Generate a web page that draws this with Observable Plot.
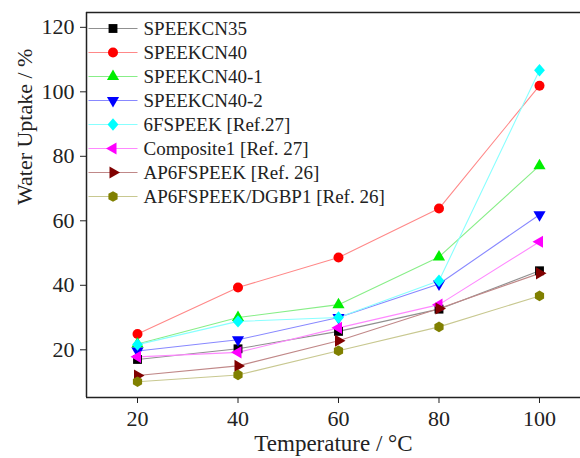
<!DOCTYPE html>
<html>
<head>
<meta charset="utf-8">
<script src="https://cdn.jsdelivr.net/npm/d3@7"></script>
<script src="https://cdn.jsdelivr.net/npm/@observablehq/plot@0.6"></script>
<style>
  html, body { margin: 0; padding: 0; background: #fff; }
  #wrap { position: relative; width: 580px; height: 458px; overflow: hidden; }
  #wrap svg { position: absolute; left: 0; top: 0; }
  #wrap svg text { font-family: "Liberation Serif", "Times New Roman", serif; }
</style>
</head>
<body>
<div id="wrap"></div>
<script>
// ---- data ----
const temperatures = [20, 40, 60, 80, 100];
const seriesNames = [
  "SPEEKCN35",
  "SPEEKCN40",
  "SPEEKCN40-1",
  "SPEEKCN40-2",
  "6FSPEEK [Ref.27]",
  "Composite1 [Ref. 27]",
  "AP6FSPEEK [Ref. 26]",
  "AP6FSPEEK/DGBP1 [Ref. 26]"
];
const speekcn35   = [17.0, 20.3, 25.7, 32.6, 44.5];
const speekcn40   = [24.9, 39.3, 48.6, 63.8, 101.9];
const speekcn40_1 = [21.8, 30.0, 34.0, 48.8, 77.1];
const speekcn40_2 = [19.6, 23.1, 30.0, 40.4, 61.9];
const fspeek6     = [21.6, 28.8, 30.0, 41.4, 106.7];
const composite1  = [17.8, 19.2, 26.8, 34.0, 53.5];
const ap6fspeek   = [12.0, 15.0, 22.8, 32.8, 43.7];
const ap6dgbp1    = [10.1, 12.2, 19.7, 27.1, 36.7];
const seriesValues = [speekcn35, speekcn40, speekcn40_1, speekcn40_2, fspeek6, composite1, ap6fspeek, ap6dgbp1];

const yTicks = [20, 40, 60, 80, 100, 120];
const xTicks = [20, 40, 60, 80, 100];

// ---- styles ----
const markerColors = ["#000000", "#ff0000", "#00ee00", "#0000ff", "#00ffff", "#ff00ff", "#800000", "#808000"];
const lineColors   = ["#909090", "#ff8888", "#88ee88", "#8888ff", "#88ffff", "#ff88ff", "#c08888", "#c8c890"];

function tri(rot) {
  return {
    draw(ctx, size) {
      const r = Math.sqrt(size / Math.PI) * 1.25;
      const pts = [0, 1, 2].map(i => {
        const a = rot + i * 2 * Math.PI / 3;
        return [r * Math.cos(a), r * Math.sin(a)];
      });
      ctx.moveTo(pts[0][0], pts[0][1]);
      ctx.lineTo(pts[1][0], pts[1][1]);
      ctx.lineTo(pts[2][0], pts[2][1]);
      ctx.closePath();
    }
  };
}
const diamond = {
  draw(ctx, size) {
    const r = Math.sqrt(size / Math.PI);
    ctx.moveTo(0, -r * 1.15);
    ctx.lineTo(r, 0);
    ctx.lineTo(0, r * 1.15);
    ctx.lineTo(-r, 0);
    ctx.closePath();
  }
};
const symbols = [
  "square", "circle", tri(-Math.PI / 2), tri(Math.PI / 2), diamond,
  tri(Math.PI), tri(0), "hexagon"
];
const symbolR = [5.0, 5.0, 5.6, 5.6, 5.4, 5.6, 5.6, 4.6];

const rows = [];
seriesNames.forEach((name, si) => {
  temperatures.forEach((t, ti) => rows.push({series: name, si, temperature: t, uptake: seriesValues[si][ti]}));
});

const xDomain = [9.85, 108.16];
const yDomain = [5.2, 124.6];
const font = "'Liberation Serif', 'Times New Roman', serif";

const marks = [];
seriesNames.forEach((name, si) => {
  const d = rows.filter(r => r.si === si);
  marks.push(Plot.line(d, {x: "temperature", y: "uptake", stroke: lineColors[si], strokeWidth: 1.1}));
});
seriesNames.forEach((name, si) => {
  const d = rows.filter(r => r.si === si);
  marks.push(Plot.dot(d, {x: "temperature", y: "uptake", symbol: symbols[si], r: symbolR[si], fill: markerColors[si], stroke: "none"}));
});
// frame lines
marks.push(Plot.ruleX([xDomain[0]], {stroke: "#222", strokeWidth: 1.5}));
marks.push(Plot.ruleY([yDomain[0]], {stroke: "#222", strokeWidth: 1.5}));
marks.push(Plot.ruleY([yDomain[1]], {stroke: "#222", strokeWidth: 1.5}));
// axis titles
marks.push(Plot.text(["Temperature / \u00B0C"], {frameAnchor: "bottom", dy: 53, fontSize: 23, fill: "#222"}));
marks.push(Plot.text(["Water Uptake / %"], {frameAnchor: "left", rotate: -90, dx: -62, fontSize: 22, fill: "#222"}));

const chart = Plot.plot({
  width: 580,
  height: 458,
  marginLeft: 86,
  marginRight: 0,
  marginTop: 12,
  marginBottom: 61,
  style: {fontFamily: font, fontSize: "22px", color: "#222", background: "white", overflow: "visible"},
  x: {domain: xDomain, ticks: xTicks, tickSize: 6, tickPadding: 7, label: null},
  y: {domain: yDomain, ticks: yTicks, tickSize: 6, tickPadding: 6, label: null},
  marks
});
document.getElementById("wrap").appendChild(chart);

// ---- legend (overlay) ----
const legendRows = seriesNames.map((name, si) => ({name, si}));
const legendMarks = [];
legendRows.forEach(r => {
  legendMarks.push(Plot.link([r], {x1: () => 0, x2: () => 1, y1: "name", y2: "name", stroke: lineColors[r.si], strokeWidth: 1.1}));
  legendMarks.push(Plot.dot([r], {x: () => 0.5, y: "name", symbol: symbols[r.si], r: symbolR[r.si], fill: markerColors[r.si], stroke: "none"}));
});
legendMarks.push(Plot.text(legendRows, {x: () => 1, y: "name", text: "name", textAnchor: "start", dx: 6, fontSize: 19, fill: "#222"}));

const legend = Plot.plot({
  width: 440,
  height: 222,
  marginLeft: 88,
  marginRight: 303,
  marginTop: 26.7,
  marginBottom: 25.3,
  style: {fontFamily: font, background: "transparent", overflow: "visible"},
  x: {domain: [0, 1], axis: null},
  y: {type: "point", domain: seriesNames, padding: 0, axis: null},
  marks: legendMarks
});
document.getElementById("wrap").appendChild(legend);
</script>
</body>
</html>
